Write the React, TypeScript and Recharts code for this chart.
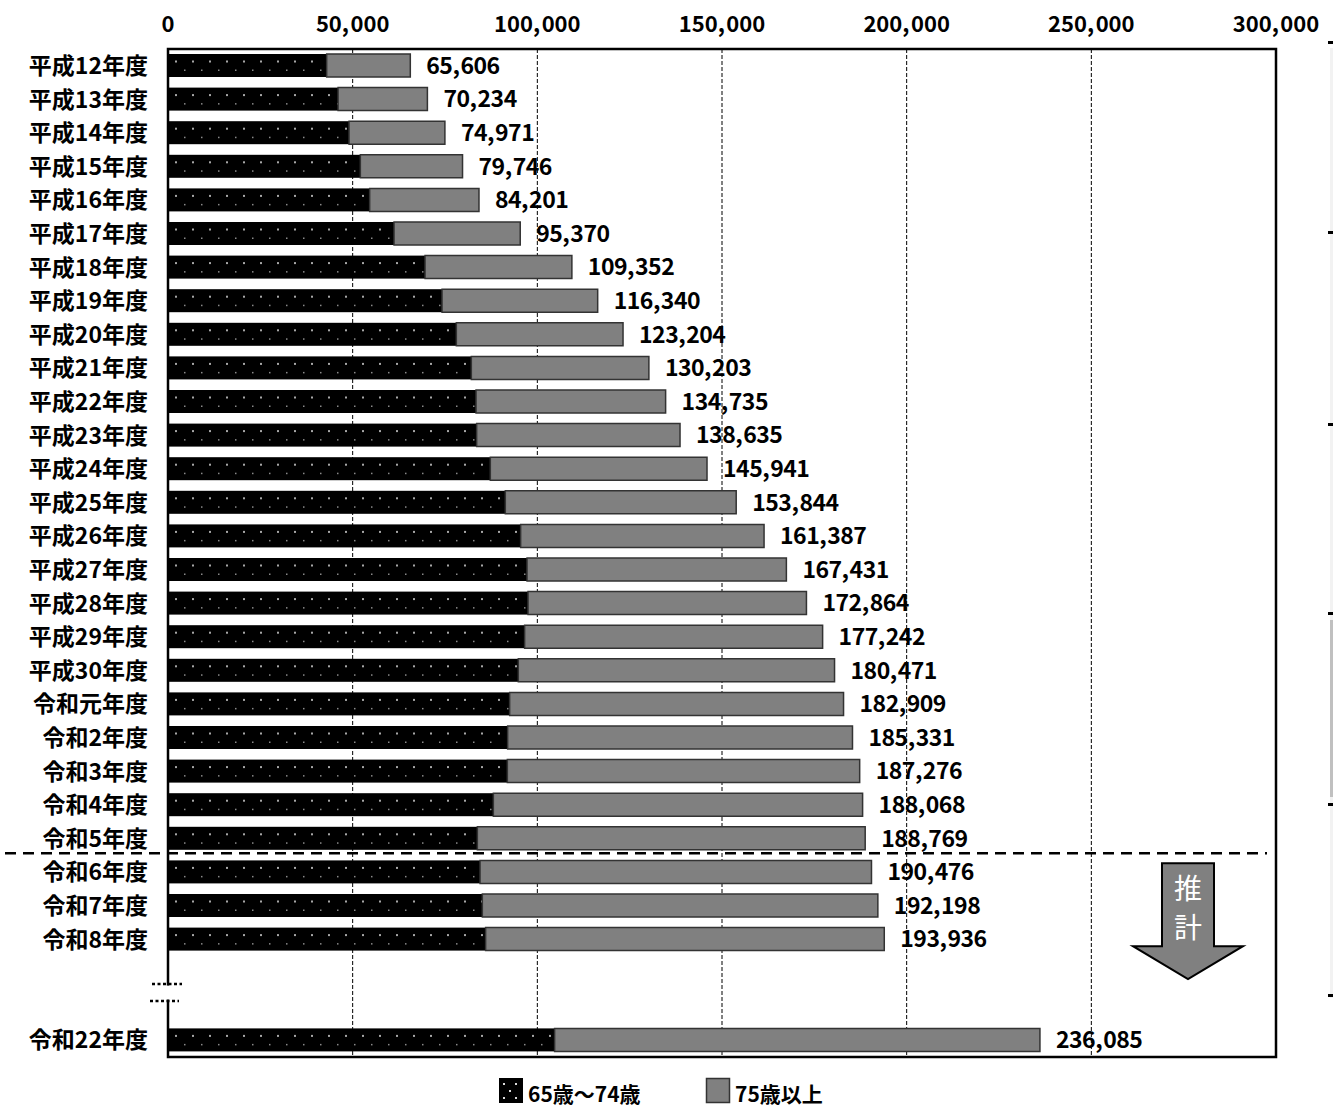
import React from "react";
import {
  BarChart,
  Bar,
  XAxis,
  YAxis,
  CartesianGrid,
  ReferenceArea,
  ReferenceLine,
  LabelList,
} from "recharts";

const FONT = "'Noto Sans CJK JP', 'Noto Sans', sans-serif";

// 年度（令和22年度の前に省略行が2行入る）
const years = [
  "平成12年度", "平成13年度", "平成14年度", "平成15年度", "平成16年度",
  "平成17年度", "平成18年度", "平成19年度", "平成20年度", "平成21年度",
  "平成22年度", "平成23年度", "平成24年度", "平成25年度", "平成26年度",
  "平成27年度", "平成28年度", "平成29年度", "平成30年度", "令和元年度",
  "令和2年度", "令和3年度", "令和4年度", "令和5年度", "令和6年度",
  "令和7年度", "令和8年度", "令和22年度",
];

// 合計（ラベル値）
const totals = [
  65606, 70234, 74971, 79746, 84201, 95370, 109352, 116340, 123204, 130203,
  134735, 138635, 145941, 153844, 161387, 167431, 172864, 177242, 180471, 182909,
  185331, 187276, 188068, 188769, 190476, 192198, 193936, 236085,
];

// 65歳～74歳
const age65to74 = [
  42960, 46050, 49020, 52080, 54600, 61200, 69600, 74200, 78070, 82130,
  83400, 83570, 87270, 91330, 95480, 97210, 97480, 96560, 94850, 92500,
  91960, 91880, 88090, 83760, 84490, 85110, 86000, 104680,
];

// 75歳以上
const age75plus = [
  22646, 24184, 25951, 27666, 29601, 34170, 39752, 42140, 45134, 48073,
  51335, 55065, 58671, 62514, 65907, 70221, 75384, 80682, 85621, 90409,
  93371, 95396, 99978, 105009, 105986, 107088, 107936, 131405,
];

const xTicks = [0, 50000, 100000, 150000, 200000, 250000, 300000];
const gapRows = ["gap1", "gap2"];
const projectionStart = "令和6年度";
const legendNames = ["65歳～74歳", "75歳以上"];

const rowOf = (i: number) => ({
  year: years[i],
  young: age65to74[i],
  old: age75plus[i],
  total: totals[i],
});

const data = [
  ...years.slice(0, years.length - 1).map((_, i) => rowOf(i)),
  ...gapRows.map((g) => ({ year: g })),
  rowOf(years.length - 1),
];

// 桁区切りのカンマの後ろを少し空ける（元図のフォントに合わせる）
const Num = ({ value, gap }: { value: number; gap: number }) => {
  const parts = value.toLocaleString("en-US").split(",");
  return (
    <>
      {parts.map((p, i) => (
        <tspan key={i} dx={i > 0 ? gap : 0}>
          {p + (i < parts.length - 1 ? "," : "")}
        </tspan>
      ))}
    </>
  );
};

const XTick = (props: any) => {
  const { x, y, payload } = props;
  return (
    <text x={x} y={y} textAnchor="middle" fontSize={22} fontWeight={700} fontFamily={FONT} fill="#000">
      <Num value={payload.value} gap={1.5} />
    </text>
  );
};

const YTick = (props: any) => {
  const { x, y, payload } = props;
  if (String(payload.value).startsWith("gap")) return <g />;
  return (
    <text x={x} y={y} dy="0.36em" textAnchor="end" fontSize={23} fontWeight={700} fontFamily={FONT} fill="#000">
      {payload.value}
    </text>
  );
};

const DottedBar = (props: any) => {
  const { x, y, width, height } = props;
  if (!width || width <= 0) return <g />;
  const dots: any[] = [];
  for (let dx = 7; dx < width - 1; dx += 17) {
    dots.push(<rect key={"u" + dx} x={x + dx} y={y + 6.5} width={2} height={2} fill="#a8a8a8" />);
  }
  for (let dx = 16; dx < width - 1; dx += 17) {
    dots.push(<rect key={"l" + dx} x={x + dx} y={y + 15.5} width={1.5} height={1.5} fill="#8a8a8a" />);
  }
  return (
    <g>
      <rect x={x} y={y} width={width} height={height} fill="#000" />
      {dots}
    </g>
  );
};

const TotalLabel = (props: any) => {
  const { x, y, width, height, value } = props;
  if (value == null) return <g />;
  return (
    <text
      x={x + width + 16}
      y={y + height / 2}
      dy="0.36em"
      fontSize={23}
      fontWeight={700}
      fontFamily={FONT}
      letterSpacing={-0.5}
      fill="#000"
    >
      <Num value={value} gap={1} />
    </text>
  );
};

// 実績／推計の区切り線と「推計」矢印
const ProjectionMark = (props: any) => {
  const { y1, x2 } = props;
  const y = y1 - 19;
  const cx = x2 - 88;
  const arrow = [
    `M${x2 - 114},${y + 10}`,
    `L${x2 - 62},${y + 10}`,
    `L${x2 - 62},${y + 93}`,
    `L${x2 - 33},${y + 93}`,
    `L${cx},${y + 126}`,
    `L${x2 - 143},${y + 93}`,
    `L${x2 - 114},${y + 93}`,
    "Z",
  ].join(" ");
  return (
    <g>
      <line x1={5} x2={x2 - 9} y1={y} y2={y} stroke="#000" strokeWidth={2.5} strokeDasharray="11 7" />
      <path d={arrow} fill="#808080" stroke="#000" strokeWidth={2} />
      <text x={cx} y={y + 36} dy="0.36em" textAnchor="middle" fontSize={28} fontFamily={FONT} fill="#fff">推</text>
      <text x={cx} y={y + 75} dy="0.36em" textAnchor="middle" fontSize={28} fontFamily={FONT} fill="#fff">計</text>
    </g>
  );
};

// 省略記号（縦軸の切れ目）
const AxisBreak = (props: any) => {
  const { y1, x1 } = props;
  const y = y1 - 14;
  return (
    <g>
      <rect x={x1 - 4} y={y - 7} width={8} height={14} fill="#fff" />
      <line x1={x1 - 16} x2={x1 + 14} y1={y - 8.5} y2={y - 8.5} stroke="#000" strokeWidth={2.5} strokeDasharray="3 2.5" />
      <line x1={x1 - 18} x2={x1 + 11} y1={y + 8.5} y2={y + 8.5} stroke="#000" strokeWidth={2.5} strokeDasharray="3 2.5" />
    </g>
  );
};

const Legend = () => (
  <svg width={1333} height={40} style={{ position: "absolute", left: 0, top: 1068 }}>
    <rect x={499} y={10} width={24} height={25} fill="#000" />
    <rect x={503} y={15} width={2} height={2} fill="#ddd" />
    <rect x={515} y={15} width={2} height={2} fill="#ddd" />
    <rect x={509} y={22} width={2} height={2} fill="#ddd" />
    <rect x={503} y={29} width={2} height={2} fill="#ddd" />
    <rect x={515} y={29} width={2} height={2} fill="#ddd" />
    <text x={528} y={34} fontSize={21} fontWeight={700} fontFamily={FONT} fill="#000">{legendNames[0]}</text>
    <rect x={706.5} y={10.5} width={23} height={24} fill="#808080" stroke="#333" strokeWidth={1.5} />
    <text x={735} y={34} fontSize={21} fontWeight={700} fontFamily={FONT} fill="#000">{legendNames[1]}</text>
  </svg>
);

const PageEdge = () => (
  <>
    <div style={{ position: "absolute", left: 1330, top: 48, width: 3, height: 950, background: "#f2f2f2" }} />
    <div style={{ position: "absolute", left: 1330, top: 620, width: 3, height: 177, background: "#c0c0c0" }} />
    {[42, 232, 424, 613, 804, 995].map((t) => (
      <div key={t} style={{ position: "absolute", left: 1328, top: t - 1, width: 5, height: 3, background: "#000" }} />
    ))}
  </>
);

export default function App() {
  return (
    <div style={{ position: "absolute", left: 0, top: 0, width: 1333, height: 1108, background: "#fff", overflow: "hidden" }}>
      <BarChart
        width={1333}
        height={1108}
        data={data}
        layout="vertical"
        margin={{ top: 0, right: 57, bottom: 51, left: 0 }}
        barSize={23}
      >
        <CartesianGrid horizontal={false} stroke="#000" strokeWidth={1} strokeDasharray="4 2" />
        <XAxis
          type="number"
          orientation="top"
          domain={[0, 300000]}
          ticks={xTicks}
          height={49}
          axisLine={false}
          tickLine={false}
          tickSize={0}
          tickMargin={17}
          tick={(p: any) => <XTick {...p} />}
        />
        <YAxis
          type="category"
          dataKey="year"
          width={168}
          axisLine={false}
          tickLine={false}
          tickSize={0}
          tickMargin={20}
          interval={0}
          tick={(p: any) => <YTick {...p} />}
        />
        <Bar dataKey="young" stackId="a" shape={(p: any) => <DottedBar {...p} />} isAnimationActive={false} />
        <Bar dataKey="old" stackId="a" fill="#808080" stroke="#333" strokeWidth={1.5} isAnimationActive={false}>
          <LabelList dataKey="total" content={(p: any) => <TotalLabel {...p} />} />
        </Bar>
        <ReferenceArea x1={0} x2={300000} fill="none" stroke="#000" strokeWidth={2.5} ifOverflow="visible" />
        <ReferenceLine y={projectionStart} ifOverflow="visible" shape={(p: any) => <ProjectionMark {...p} />} />
        <ReferenceLine y={gapRows[1]} ifOverflow="visible" shape={(p: any) => <AxisBreak {...p} />} />
      </BarChart>
      <Legend />
      <PageEdge />
    </div>
  );
}
